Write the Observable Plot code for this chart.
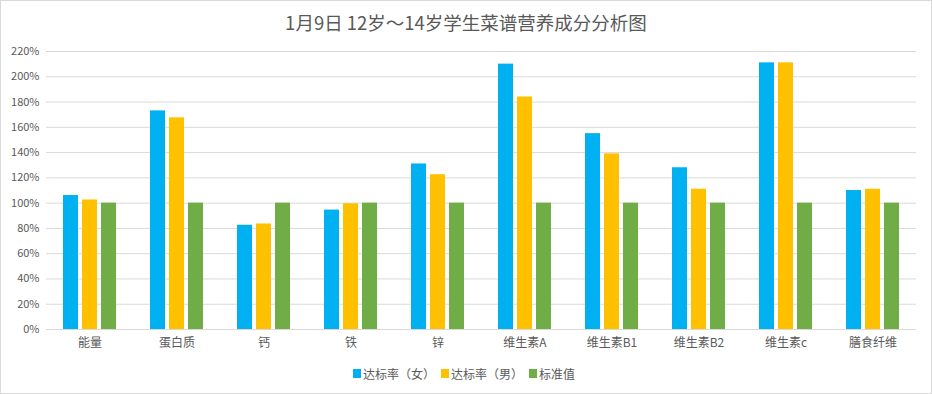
<!DOCTYPE html>
<html>
<head>
<meta charset="utf-8">
<script src="https://cdn.jsdelivr.net/npm/d3@7"></script>
<script src="https://cdn.jsdelivr.net/npm/@observablehq/plot@0.6"></script>
<style>
  html, body { margin: 0; padding: 0; background: #fff; }
  #wrap { width: 932px; height: 394px; box-sizing: border-box; border: 1px solid #d9d9d9; background: #fff; overflow: hidden; font-family: "Noto Sans CJK SC", sans-serif; color: #595959; }
  #title { height: 39px; line-height: 42px; text-align: center; font-size: 18.5px; color: #595959; }
  #legend { height: 30px; display: flex; justify-content: center; align-items: center; font-size: 12px; color: #595959; padding-right: 4px; }
  .item { display: flex; align-items: center; margin: 0 3px; }
  .sw { width: 8px; height: 9px; margin-right: 2px; }
  svg { display: block; }
</style>
</head>
<body>
<div id="wrap">
  <div id="title">1月9日 12岁～14岁学生菜谱营养成分分析图</div>
  <div id="chart"></div>
  <div id="legend"></div>
</div>
<script>
const categories = ["能量", "蛋白质", "钙", "铁", "锌", "维生素A", "维生素B1", "维生素B2", "维生素c", "膳食纤维"];
const series = ["达标率（女）", "达标率（男）", "标准值"];
const female = [106, 173, 82.5, 94.5, 131, 210, 155, 128, 211, 110];
const male = [102.5, 167.5, 83.5, 99.5, 122.5, 184, 139, 111, 211, 111];
const standard = [100, 100, 100, 100, 100, 100, 100, 100, 100, 100];
const colors = ["#00B0F0", "#FFC000", "#70AD47"];
const yTicks = [0, 20, 40, 60, 80, 100, 120, 140, 160, 180, 200, 220];

const valuesBySeries = [female, male, standard];
const rows = [];
categories.forEach((c, i) => {
  series.forEach((s, j) => rows.push({category: c, series: s, value: valuesBySeries[j][i]}));
});

const chart = Plot.plot({
  width: 930,
  height: 318,
  marginTop: 11,
  marginBottom: 29,
  marginLeft: 44,
  marginRight: 15,
  style: {fontFamily: "'Noto Sans CJK SC', sans-serif", color: "#595959", background: "white", overflow: "visible"},
  fx: {domain: categories, padding: 0, label: null, axis: null},
  x: {domain: series, paddingInner: 0.2, paddingOuter: 0.83, axis: null},
  y: {domain: [0, 220], axis: null},
  color: {domain: series, range: colors},
  marks: [
    Plot.ruleY(yTicks, {stroke: "#d9d9d9", strokeWidth: 1}),
    Plot.barY(rows, {fx: "category", x: "series", y: "value", fill: "series"}),
    Plot.axisY({ticks: yTicks, tickFormat: d => d + "%", tickSize: 0, tickPadding: 7, fontSize: 11, label: null}),
    Plot.axisFx({anchor: "bottom", tickSize: 0, tickPadding: 9, fontSize: 12, label: null})
  ]
});
document.getElementById("chart").appendChild(chart);

const legend = document.getElementById("legend");
series.forEach((s, j) => {
  const it = document.createElement("div");
  it.className = "item";
  const sw = document.createElement("span");
  sw.className = "sw";
  sw.style.background = colors[j];
  const t = document.createElement("span");
  t.textContent = s;
  it.appendChild(sw);
  it.appendChild(t);
  legend.appendChild(it);
});
</script>
</body>
</html>
